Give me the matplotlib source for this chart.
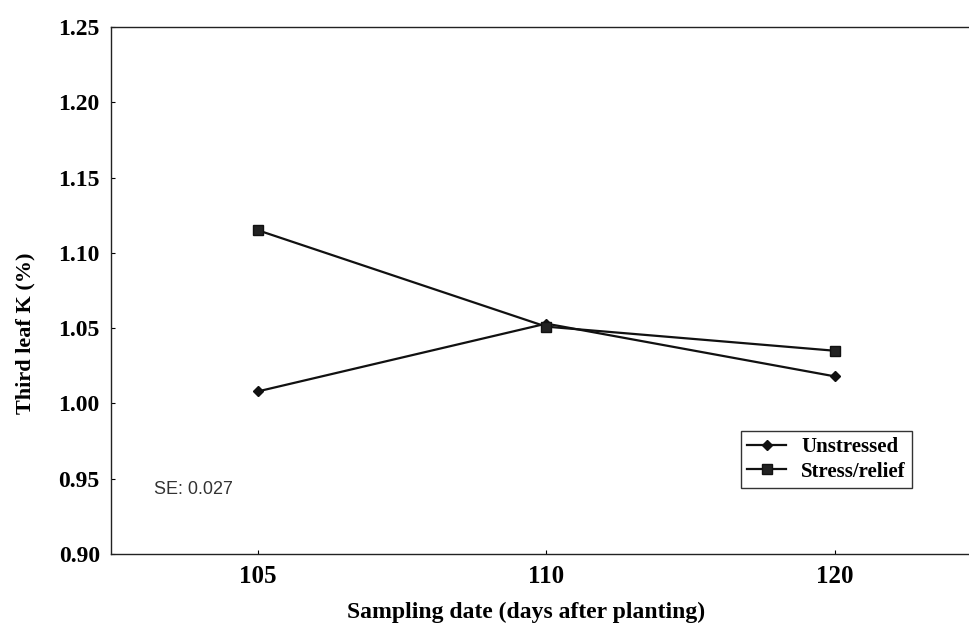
import matplotlib
matplotlib.use("Agg")
import matplotlib.pyplot as plt

days = ["105", "110", "120"]
unstressed = [1.008, 1.053, 1.018]
stress_relief = [1.115, 1.051, 1.035]
yticks = [0.90, 0.95, 1.00, 1.05, 1.10, 1.15, 1.20, 1.25]

serif = "Liberation Serif"

fig = plt.figure(figsize=(9.70, 6.24), dpi=100)
ax = fig.add_axes([0.1144, 0.1122, 0.8856, 0.8445])

xs = range(len(days))
ax.plot(xs, unstressed, "-", color="#111111", lw=1.6, marker="D", ms=5.5,
        mfc="#111111", mec="#111111", label="Unstressed")
ax.plot(xs, stress_relief, "-", color="#111111", lw=1.6, marker="s", ms=7.5,
        mfc="#222222", mec="#111111", label="Stress/relief")

ax.set_xlim(-0.51, 2.47)
ax.set_ylim(0.90, 1.25)
ax.set_xticks(list(xs))
ax.set_xticklabels(days, fontfamily=serif, fontweight="bold", fontsize=18)
ax.set_yticks(yticks)
ax.set_yticklabels([f"{v:.2f}" for v in yticks], fontfamily=serif,
                   fontweight="bold", fontsize=17)
ax.tick_params(direction="in", length=3, width=0.8, pad=8)
ax.spines["right"].set_visible(False)
for s in ["left", "top", "bottom"]:
    ax.spines[s].set_linewidth(1.0)
    ax.spines[s].set_color("#222222")

# axis titles placed on the figure so they sit where the reference has them
fig.text(0.542, 0.018, "Sampling date (days after planting)", ha="center",
         va="center", fontfamily=serif, fontweight="bold", fontsize=17)
fig.text(0.026, 0.466, "Third leaf K (%)", rotation=90, ha="center", va="center",
         fontfamily=serif, fontweight="bold", fontsize=16)

ax.text(0.05, 0.122, "SE: 0.027", transform=ax.transAxes,
        fontfamily="Liberation Sans", fontsize=13, color="#333333", va="center")

leg = ax.legend(loc="upper left", bbox_to_anchor=(0.733, 0.233), frameon=True,
                fancybox=False, edgecolor="#333333", framealpha=1,
                prop={"family": serif, "weight": "bold", "size": 15},
                handlelength=1.9, handletextpad=0.7, borderpad=0.3,
                labelspacing=0.2, borderaxespad=0)
leg.get_frame().set_linewidth(1.0)

fig.savefig("out.png", dpi=100)
